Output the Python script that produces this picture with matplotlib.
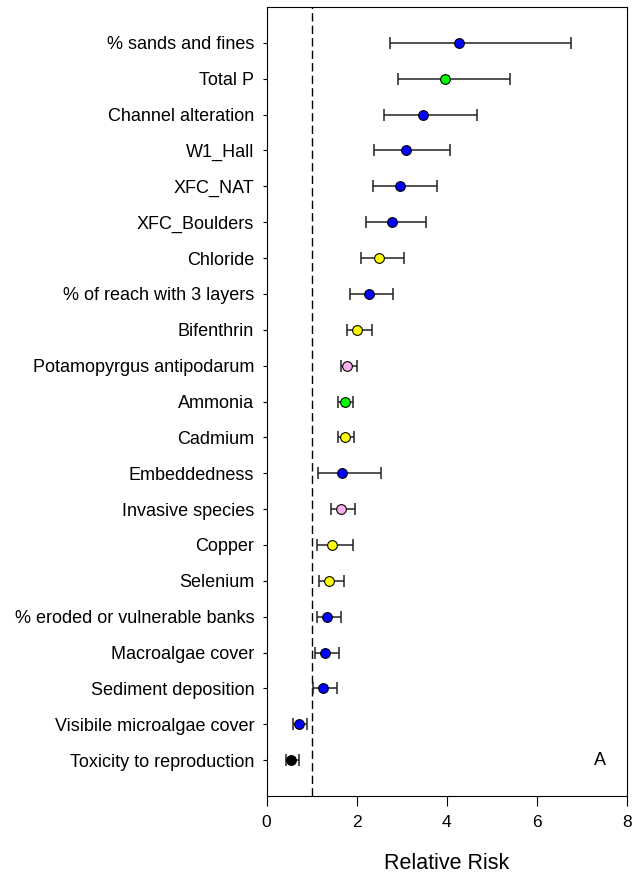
import matplotlib
matplotlib.use('Agg')
import matplotlib.pyplot as plt

plt.rcParams['font.family'] = ['Liberation Sans', 'DejaVu Sans']

labels = ['% sands and fines', 'Total P', 'Channel alteration', 'W1_Hall', 'XFC_NAT',
          'XFC_Boulders', 'Chloride', '% of reach with 3 layers', 'Bifenthrin',
          'Potamopyrgus antipodarum', 'Ammonia', 'Cadmium', 'Embeddedness',
          'Invasive species', 'Copper', 'Selenium', '% eroded or vulnerable banks',
          'Macroalgae cover', 'Sediment deposition', 'Visibile microalgae cover',
          'Toxicity to reproduction']
rr = [4.28, 3.95, 3.46, 3.09, 2.97, 2.78, 2.50, 2.27, 2.01, 1.79, 1.73, 1.74,
      1.68, 1.64, 1.44, 1.38, 1.34, 1.30, 1.25, 0.71, 0.54]
lower = [2.74, 2.91, 2.60, 2.38, 2.37, 2.21, 2.09, 1.86, 1.78, 1.64, 1.59, 1.58,
         1.15, 1.42, 1.12, 1.16, 1.12, 1.07, 1.03, 0.59, 0.44]
upper = [6.75, 5.41, 4.67, 4.06, 3.78, 3.54, 3.04, 2.81, 2.34, 2.01, 1.92, 1.95,
         2.54, 1.97, 1.91, 1.72, 1.64, 1.60, 1.56, 0.90, 0.72]
colors = ['#0000ff', '#00ff00', '#0000ff', '#0000ff', '#0000ff', '#0000ff', '#ffff00',
          '#0000ff', '#ffff00', '#ffb0f0', '#00ff00', '#ffff00', '#0000ff', '#ffb0f0',
          '#ffff00', '#ffff00', '#0000ff', '#0000ff', '#0000ff', '#0000ff', '#000000']

fig = plt.figure(figsize=(6.34, 8.76), dpi=100)
ax = fig.add_axes([0.4206, 0.0913, 0.5684, 0.9007])

ypos = list(range(1, len(labels) + 1))
for y, v, lo, hi, c in zip(ypos, rr, lower, upper, colors):
    ax.errorbar(v, y, xerr=[[v - lo], [hi - v]], fmt='none', ecolor='#222222',
                elinewidth=1.1, capsize=4.3, capthick=1.1, zorder=2)
    ax.plot(v, y, 'o', markersize=7, markerfacecolor=c, markeredgecolor='black',
            markeredgewidth=0.8, zorder=3)

ax.axvline(1, color='black', linestyle=(0, (6, 3)), linewidth=1, zorder=1)

ax.set_xlim(0, 8)
ax.set_ylim(22, 0)
ax.set_xticks([0, 2, 4, 6, 8])
ax.set_yticks(ypos)
ax.set_yticklabels(labels, fontsize=13)
ax.tick_params(axis='x', labelsize=12.5, length=7.5, direction='out', pad=6)
ax.tick_params(axis='y', length=3, direction='out', pad=6)
ax.set_xlabel('Relative Risk', fontsize=15.5, labelpad=17)
ax.text(7.4, 21, 'A', fontsize=13, ha='center', va='center')

fig.savefig('out.png', dpi=100)
